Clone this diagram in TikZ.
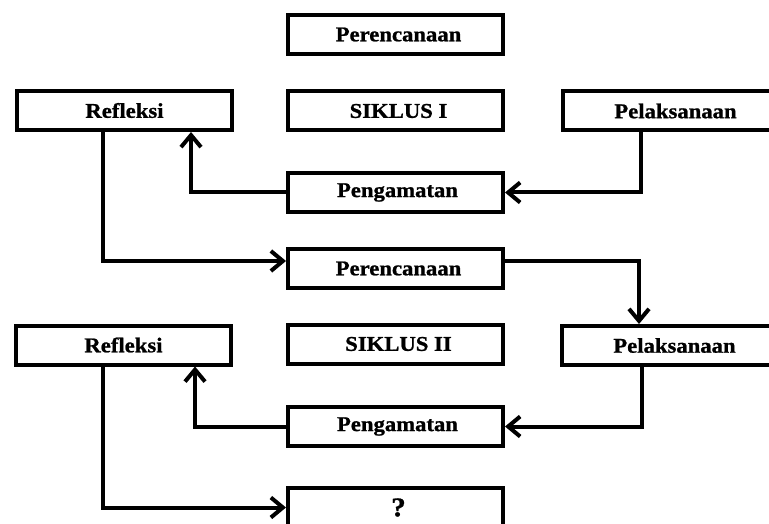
\documentclass[tikz,border=0pt]{standalone}
\usepackage{fontspec}
\setmainfont[FakeStretch=1.08,BoldFeatures={FakeBold=1}]{Liberation Serif}
\usetikzlibrary{arrows.meta}
\begin{document}
\begin{tikzpicture}[x=1pt,y=-1pt,
  box/.style={draw=black, line width=4pt, minimum width=215pt, minimum height=39pt,
    inner sep=0pt, font=\fontsize{21}{24}\selectfont\bfseries, fill=white},
  arr/.style={line width=4pt, line join=miter, -{Straight Barb[length=12pt,width=20pt,line width=4pt]}}]
\clip (0,0) rectangle (769,524);
\fill[white] (0,0) rectangle (769,524);
\node[box] (P1) at (395.5,34.5) {\hspace*{6pt}Perencanaan};
\node[box] (R1) at (124.5,110.5) {Refleksi};
\node[box] (S1) at (395.5,111) {\hspace*{6pt}SIKLUS I};
\node[box] (L1) at (670.5,111) {\hspace*{10pt}Pelaksanaan};
\node[box] (G1) at (395.5,192.5) {\hspace*{4pt}Pengamatan};
\node[box] (P2) at (395.5,268.5) {\hspace*{6pt}Perencanaan};
\node[box] (R2) at (123.5,345) {Refleksi};
\node[box] (S2) at (395.5,344) {\hspace*{6pt}SIKLUS II};
\node[box] (L2) at (669.5,345.5) {\hspace*{10pt}Pelaksanaan};
\node[box] (G2) at (395.5,426.5) {\hspace*{4pt}Pengamatan};
\node[box, font=\fontsize{27}{30}\selectfont\bfseries] (Q) at (395.5,507.5) {\hspace*{6pt}?};
\draw[arr] ([xshift=-29.5pt]L1.south) |- (G1.east);
\draw[arr] (G1.west) -| ([xshift=66.5pt]R1.south);
\draw[arr] ([xshift=-21.5pt]R1.south) |- ([yshift=7.5pt]P2.west);
\draw[arr] ([yshift=7.5pt]P2.east) -| ([xshift=-30.5pt]L2.north);
\draw[arr] ([xshift=-27.5pt]L2.south) |- (G2.east);
\draw[arr] (G2.west) -| ([xshift=71.5pt]R2.south);
\draw[arr] ([xshift=-20.5pt]R2.south) |- (Q.west);
\end{tikzpicture}
\end{document}
